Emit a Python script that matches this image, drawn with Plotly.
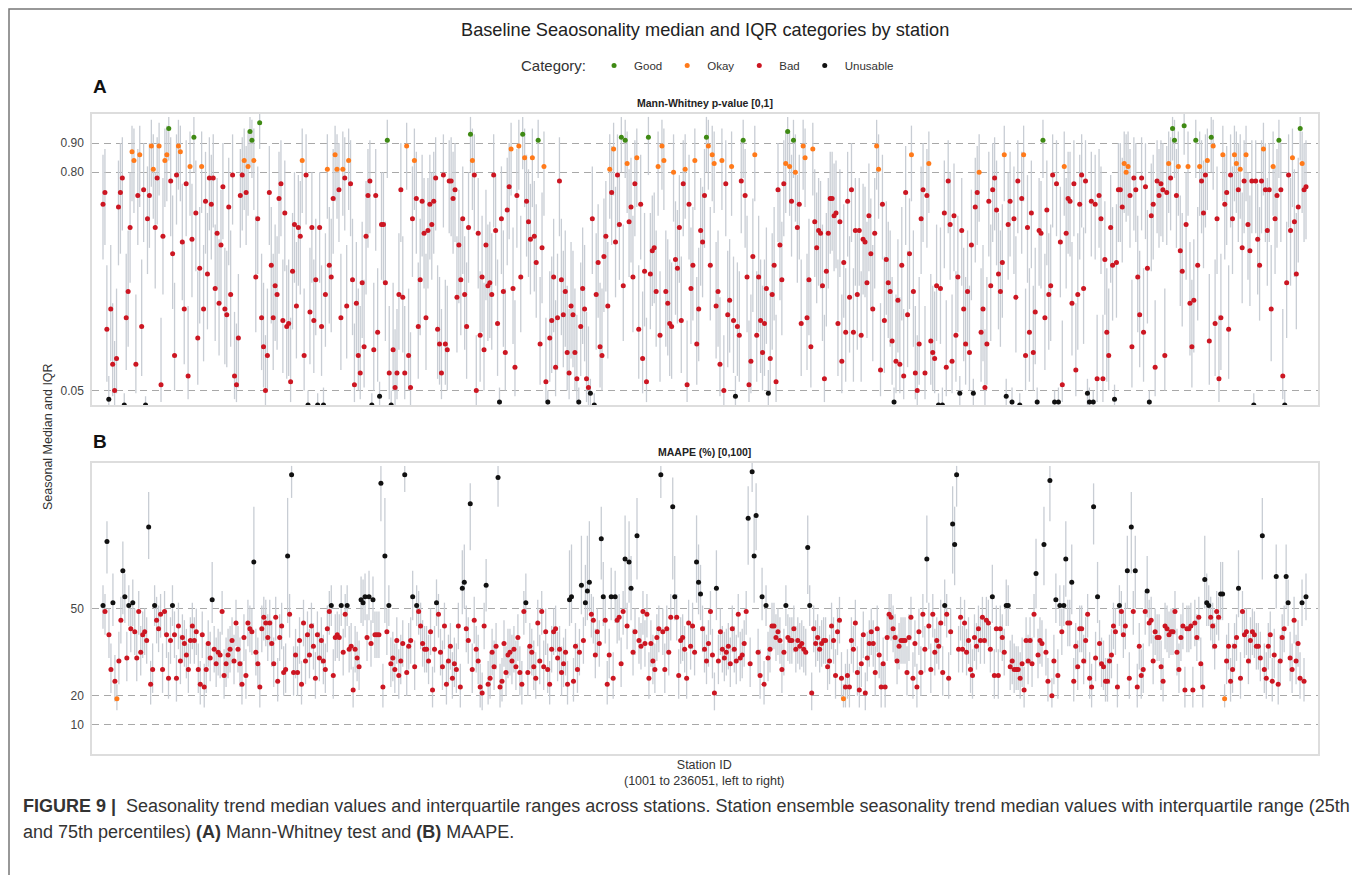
import plotly.graph_objects as go

# ---------------- data ----------------
# Panel A: Mann-Whitney p-value, in percent (0-100), per station, left to right
A_MED = [
69,73,26,2,33,14,5,16,68,73,
78,0,30,39,61,87,84,14,72,86,
27,74,0,64,72,89,81,61,78,89,
7,58,84,86,95,77,52,17,79,89,
87,56,33,76,10,82,57,92,66,23,
47,82,33,70,45,78,69,78,40,59,
35,55,75,33,31,68,38,79,10,7,
23,72,79,84,73,82,94,91,84,44,
64,97,30,20,5,17,73,48,30,41,
38,71,76,29,66,27,28,8,46,62,
34,61,58,84,17,79,0,32,61,29,
43,0,61,27,0,38,81,48,44,71,
86,81,74,30,81,78,34,84,76,43,
7,35,17,11,42,20,58,72,77,0,
19,72,25,3,62,62,42,91,11,0,
19,6,11,38,74,37,11,89,17,6,
64,84,71,27,43,70,59,30,60,69,
62,70,78,26,21,11,79,21,19,77,
77,71,74,37,55,43,64,38,27,61,
93,84,79,5,59,24,44,19,55,41,
42,38,
79,60,28,1,64,39,18,67,75,88,40,
13,72,89,44,93,85,70,63,57,85,58,
49,91,21,54,82,8,1,23,29,44,
13,30,77,43,31,39,18,11,34,31,18,
9,1,27,40,33,9,6,4,64,0,
38,49,20,17,51,58,34,81,73,88,56,
79,62,92,41,91,83,63,68,44,76,
85,26,69,16,46,8,92,45,53,54,39,
82,24,89,84,39,35,28,27,80,50,47,
61,29,76,81,7,69,40,48,84,21,33,
60,56,72,92,89,48,86,83,34,39,
14,84,5,76,31,36,82,29,3,27,24,
77,91,72,44,7,15,51,86,24,44,29,
18,28,40,4,16,38,48,8,74,55,43,
76,83,94,82,70,91,80,61,69,28,
89,85,30,43,20,88,63,54,60,59,41,
9,46,59,71,71,65,66,28,63,15,
49,25,70,37,74,25,60,38,60,24,57,
56,42,65,52,33,59,89,81,12,69,
29,50,42,39,22,1,15,
36,14,48,10,73,31,52,86,39,11,
5,21,64,74,11,72,83,22,18,16,
41,0,40,0,66,13,77,62,15,
65,24,44,4,60,33,21,39,18,55,
4,68,73,80,25,33,6,21,70,
41,74,78,67,45,39,49,86,3,62,
70,1,64,37,77,0,71,86,17,
61,25,66,18,32,1,60,59,91,30,
67,38,41,79,1,76,1,56,7,
82,59,71,70,35,76,12,38,69,79,
40,77,4,1,70,1,69,9,72,
64,9,50,25,17,61,48,2,49,74,
74,68,83,80,82,72,20,78,74,
44,31,78,25,75,47,1,65,69,13,
77,72,76,74,17,73,83,78,95,
91,72,82,53,46,96,62,82,35,20,
36,91,48,82,77,66,79,84,22,
92,89,28,64,9,30,86,69,73,26,
79,64,86,83,74,81,54,77,86,
62,53,77,0,77,57,48,77,88,74,
60,74,33,82,64,72,91,74,10,
0,42,79,60,85,63,45,68,95,83,
74,75,
]
A_Q25 = [
50,55,8,0,15,3,0,4,48,52,
60,0,12,20,42,70,66,4,55,68,
10,56,0,45,54,75,64,40,62,72,
1,38,68,70,84,58,33,5,62,74,
70,36,14,58,2,65,37,80,46,7,
28,66,15,52,26,60,50,61,22,40,
17,35,57,14,13,48,20,62,2,1,
6,54,60,67,55,65,82,78,67,25,
45,88,12,6,0,5,55,28,12,22,
19,52,58,11,46,9,10,1,26,42,
16,41,38,66,5,62,0,14,42,11,
24,0,42,10,0,20,64,28,25,52,
70,64,56,12,65,60,16,67,58,24,
1,17,5,2,23,6,38,54,59,0,
5,53,8,0,43,42,22,78,2,0,
5,0,2,19,56,18,2,74,5,0,
44,67,52,9,24,51,40,12,40,50,
43,52,60,9,7,2,61,7,5,59,
58,52,56,18,35,24,45,19,9,42,
80,67,60,0,40,8,25,5,36,22,
23,19,
61,41,10,0,45,20,5,48,57,72,21,
3,54,74,25,81,68,51,44,38,68,39,
30,78,7,35,65,1,0,8,11,25,
3,12,58,24,13,20,5,2,16,13,5,
1,0,10,21,15,1,0,0,45,0,
19,30,6,5,32,39,16,64,55,72,37,
61,43,80,22,78,66,44,49,25,58,
68,9,50,4,27,1,79,26,34,35,20,
65,8,74,67,20,17,10,9,63,31,28,
42,11,58,64,1,50,21,29,67,7,15,
41,37,54,80,74,29,70,66,16,20,
3,67,0,58,13,18,65,11,0,10,8,
59,78,54,25,1,4,32,70,8,25,11,
5,10,21,0,4,19,29,1,56,36,24,
58,66,82,65,51,78,63,42,50,10,
74,68,12,24,6,72,44,35,41,40,22,
1,27,40,52,53,46,47,10,44,4,
30,8,51,18,56,8,41,19,41,8,38,
37,23,46,33,15,40,74,64,3,50,
11,31,23,20,7,0,4,
18,4,29,2,55,13,33,70,20,2,
0,7,45,56,2,54,66,7,5,4,
22,0,21,0,47,3,59,43,4,
46,8,25,0,41,15,7,20,5,36,
0,49,55,63,8,15,0,7,51,
22,56,60,48,26,20,30,70,0,43,
51,0,45,18,59,0,52,70,5,
42,8,47,5,14,0,41,40,78,12,
48,19,22,61,0,58,0,37,1,
65,40,52,51,17,58,3,19,50,61,
21,59,0,0,51,0,50,1,54,
45,1,31,8,5,42,29,0,30,56,
56,49,66,63,65,54,6,60,56,
25,13,60,8,57,28,0,46,50,3,
59,54,58,56,5,55,66,60,84,
78,54,65,34,27,86,43,65,17,6,
18,78,29,65,59,47,61,67,7,
80,74,10,45,1,12,70,50,55,9,
61,45,70,66,56,64,35,59,70,
43,34,59,0,59,38,29,59,72,56,
41,56,15,65,45,54,78,56,2,
0,23,61,41,68,44,26,49,84,66,
56,57,
]
A_Q75 = [
86,88,48,10,55,35,22,40,84,90,
92,4,52,60,80,96,95,38,88,96,
50,90,3,82,90,98,93,80,92,97,
30,78,95,96,99,92,72,42,93,98,
96,76,56,91,34,94,76,99,84,46,
68,94,55,87,66,92,86,93,62,78,
57,74,90,54,53,85,60,93,32,28,
45,88,92,95,89,94,99,98,95,65,
82,100,52,42,24,40,89,68,52,62,
58,87,91,50,84,48,50,30,66,80,
56,79,77,95,40,93,5,54,80,50,
64,4,80,48,6,59,93,68,64,88,
96,93,90,52,94,92,55,95,91,64,
28,56,40,34,63,43,77,88,91,4,
42,88,47,8,80,80,63,98,34,5,
42,26,33,59,90,58,34,97,40,25,
82,95,87,49,64,86,78,52,78,86,
80,87,92,48,44,33,93,43,41,91,
92,87,90,58,74,64,82,58,49,80,
99,95,93,24,78,46,65,42,74,62,
63,59,
93,79,50,6,82,60,40,85,90,97,61,
36,88,98,65,99,95,86,81,76,95,77,
69,98,44,73,94,30,5,46,51,64,
36,52,92,64,53,60,41,33,56,53,40,
31,6,49,61,55,32,27,9,82,4,
59,69,42,40,71,77,56,93,89,97,75,
93,80,99,62,98,94,81,85,65,91,
95,48,86,39,66,30,99,66,72,73,60,
94,46,98,95,60,57,50,49,93,70,67,
79,51,91,93,29,86,61,68,95,44,54,
78,75,88,99,98,68,96,94,56,60,
37,95,24,91,53,57,94,51,10,49,46,
91,98,88,65,29,38,71,96,46,65,50,
41,50,61,12,39,59,68,31,90,74,63,
91,94,99,94,86,98,93,79,86,50,
98,95,52,64,43,97,81,73,78,77,62,
31,66,78,87,87,83,84,50,81,38,
69,47,87,58,90,47,78,59,78,46,76,
75,63,83,71,55,78,98,93,35,86,
51,70,63,60,44,6,38,
57,37,68,33,89,53,71,96,60,34,
24,44,82,90,34,88,94,45,41,39,
62,4,61,6,84,36,91,80,38,
83,46,65,10,78,54,44,60,41,74,
9,85,89,93,47,55,26,44,87,
62,90,92,84,66,60,69,96,9,80,
87,6,82,58,91,4,87,96,40,
79,47,84,41,54,6,78,77,98,52,
84,59,62,93,5,91,6,75,29,
94,78,87,87,56,91,35,59,86,93,
61,91,9,6,87,5,86,31,88,
82,31,70,47,40,79,68,7,69,90,
90,85,94,93,94,88,43,92,90,
65,53,92,47,90,67,5,83,86,36,
91,88,91,90,40,89,94,92,99,
98,88,94,72,66,100,80,94,56,43,
57,98,68,94,91,84,93,95,45,
99,98,50,82,31,52,96,86,89,48,
93,82,96,94,90,93,73,91,96,
80,72,91,4,91,76,68,91,97,90,
78,90,55,94,82,88,98,90,33,
5,63,93,78,95,81,66,85,99,94,
90,91,
]

# Panel B: MAAPE (%), per station, left to right
B_MED = [
51,49,73,41,29,52,25,19,32,46,
63,54,33,51,43,52,42,33,49,35,41,
42,39,78,24,29,51,46,43,48,29,
49,41,26,39,51,41,26,44,32,40,38,
34,29,39,44,39,42,29,24,41,23,
29,38,33,53,36,31,35,34,49,27,31,
34,36,39,32,45,36,31,24,40,27,
45,43,42,66,35,31,23,43,47,45,40,
45,38,31,47,25,40,44,28,29,68,
48,96,28,34,28,39,24,45,32,41,34,
44,37,26,41,33,39,32,29,43,49,
51,27,40,41,40,51,35,48,51,36,37,
22,36,33,30,53,52,54,40,54,38,
53,41,41,41,93,23,68,42,51,31,33,
29,39,27,32,38,96,28,37,39,54,
30,51,49,44,38,36,36,32,42,22,36,
52,48,35,30,44,24,32,37,26,31,
29,44,23,57,59,43,39,86,29,46,
36,32,23,21,44,58,24,26,35,30,
37,95,
23,25,38,28,34,35,32,36,30,40,
28,24,49,52,28,37,35,30,26,45,
32,49,30,42,29,24,36,42,43,33,36,
28,31,35,24,53,54,25,37,29,35,
58,39,52,56,59,48,46,34,42,38,
74,54,46,24,34,54,26,54,46,47,31,
49,67,44,66,57,35,42,75,39,37,
49,38,48,26,38,32,29,40,43,96,
42,29,43,35,47,85,54,47,27,39,40,
36,26,45,37,44,35,66,59,55,43,
36,32,38,49,34,21,57,32,42,36,
33,35,37,31,43,36,32,48,33,34,38,
49,81,31,97,68,82,35,27,54,24,
51,33,36,44,44,40,42,39,29,35,
51,40,39,39,43,36,39,37,38,36,35,
71,51,21,43,38,40,36,38,39,39,
30,32,44,39,27,42,46,26,19,23,
27,23,39,36,45,28,22,31,41,21,33,
38,42,38,28,43,34,23,31,23,40,
48,47,43,40,32,37,39,39,
39,28,40,47,26,38,23,42,28,48,
36,67,44,29,48,35,39,37,45,
28,51,48,26,42,79,72,96,36,47,
36,45,35,39,29,27,40,37,43,39,
47,39,46,45,36,54,27,43,27,
43,40,35,51,51,30,32,29,29,29,
26,31,22,39,32,39,31,48,62,34,
39,38,72,35,25,94,20,32,53,
27,51,42,51,67,45,45,59,25,37,
30,43,43,32,39,48,26,23,85,33,
54,38,31,30,25,25,32,34,44,
42,23,51,49,41,44,63,26,78,49,
63,23,37,27,29,49,56,45,46,32,
42,40,40,30,25,44,43,41,42,
42,49,35,29,40,44,22,43,43,44,
22,45,40,47,31,23,60,52,51,47,
44,37,49,47,55,55,19,32,37,
25,29,37,40,57,26,49,41,42,32,
39,42,41,37,37,33,75,29,26,37,
41,25,34,61,24,32,40,43,61,52,
33,29,46,32,38,26,52,25,54,
]
B_Q25 = [
43,41,62,33,21,44,18,15,24,38,
48,45,25,44,35,44,34,25,41,27,33,
34,31,67,17,21,44,38,35,40,21,
41,33,19,31,44,33,18,36,24,32,30,
26,21,31,36,31,34,21,17,33,16,
21,30,25,45,28,23,27,26,41,19,23,
26,28,31,24,37,28,23,17,32,19,
37,35,34,50,27,23,16,35,39,37,32,
37,30,23,39,18,32,36,20,21,45,
40,88,20,26,20,31,17,37,24,33,26,
36,29,19,33,25,31,24,21,35,41,
44,19,32,33,32,44,27,40,44,28,29,
16,28,25,22,45,44,46,32,46,30,
45,33,33,33,80,16,45,34,44,23,25,
21,31,19,24,30,90,20,29,31,46,
22,44,41,36,30,28,28,24,34,16,28,
44,40,27,22,36,17,24,29,19,23,
21,36,16,48,50,35,31,70,21,38,
28,24,16,15,36,49,17,19,27,22,
29,85,
16,18,30,20,26,27,24,28,22,32,
20,17,41,45,20,29,27,22,19,37,
24,41,22,34,21,17,28,34,35,25,28,
20,23,27,17,44,45,18,29,21,27,
48,31,44,46,49,40,38,26,34,30,
60,44,38,17,26,46,19,45,38,39,23,
41,50,36,52,46,27,34,60,31,29,
41,30,40,19,30,24,21,32,35,88,
34,21,35,27,39,60,46,39,19,31,32,
28,19,37,29,36,27,52,48,46,35,
28,24,30,41,26,15,46,24,34,28,
25,27,29,23,35,28,24,40,25,26,30,
41,65,23,90,52,70,27,19,46,17,
44,25,28,36,36,32,34,31,21,27,
44,32,31,31,35,28,31,29,30,28,27,
55,44,15,35,30,32,28,30,31,31,
22,24,36,31,19,34,38,19,16,16,
19,16,31,28,37,20,16,23,33,15,25,
30,34,30,20,35,26,16,23,16,32,
40,39,35,32,24,29,31,31,
31,20,32,39,19,30,16,34,20,40,
28,52,36,21,40,27,31,29,37,
20,44,40,19,34,62,58,85,28,39,
28,37,27,31,21,19,32,29,35,31,
39,31,38,37,28,45,19,35,19,
35,32,27,44,44,22,24,21,22,22,
19,23,16,31,24,31,23,40,50,26,
31,30,58,27,18,80,16,24,45,
19,44,34,44,54,37,37,48,18,29,
22,35,35,24,31,40,19,16,72,25,
45,30,23,22,18,18,24,26,36,
34,16,44,41,33,36,50,19,62,41,
50,16,29,19,21,41,47,37,38,24,
34,32,32,22,18,36,35,33,34,
34,41,27,21,32,36,16,35,35,36,
16,37,32,39,23,16,50,44,44,39,
36,29,41,39,46,46,16,24,29,
18,21,29,32,47,19,41,33,34,24,
31,34,33,29,29,25,60,21,19,29,
33,18,26,50,17,24,32,35,50,44,
25,21,38,24,30,19,44,18,46,
]
B_Q75 = [
58,55,80,50,38,62,34,24,42,54,
73,62,42,58,50,60,50,42,56,44,49,
50,47,90,32,38,58,54,51,55,38,
56,49,35,47,58,49,34,52,41,48,46,
43,38,47,52,47,50,38,32,49,31,
38,46,42,66,44,40,43,42,56,36,40,
43,44,47,41,53,44,40,32,48,36,
53,51,50,85,43,40,31,51,54,53,48,
53,46,40,54,33,48,52,37,38,88,
55,99,37,43,37,47,32,53,41,49,43,
52,45,35,49,42,47,41,38,51,56,
58,36,48,49,48,58,43,55,58,44,45,
30,44,42,39,61,60,62,48,63,46,
61,49,49,49,99,31,88,50,58,40,42,
38,47,36,41,46,99,37,45,47,63,
39,58,56,52,46,44,44,41,50,30,44,
60,55,43,39,52,32,41,45,35,40,
38,52,31,70,72,51,47,93,38,54,
44,41,31,28,52,67,32,35,43,39,
45,99,
31,33,46,37,43,43,41,44,39,48,
37,32,56,62,37,45,43,39,35,53,
41,56,39,50,38,32,44,50,51,42,44,
37,40,43,32,70,72,33,45,38,43,
75,47,65,75,80,55,54,43,50,46,
85,66,54,32,43,64,35,63,54,55,40,
56,82,52,80,68,43,50,88,47,45,
56,46,55,35,46,41,38,48,51,99,
50,38,51,43,55,95,68,55,36,47,48,
44,35,53,45,52,43,82,72,65,51,
44,41,46,56,43,28,70,41,50,44,
42,43,45,40,51,44,41,55,42,43,46,
56,92,40,100,82,93,43,36,64,32,
58,42,44,52,52,48,50,47,38,43,
58,48,47,47,51,44,47,45,46,44,43,
82,58,28,51,46,48,44,46,47,47,
39,41,52,47,36,50,54,35,24,31,
36,31,47,44,53,37,30,40,49,28,42,
46,50,46,37,51,43,31,40,31,48,
55,55,51,48,41,45,47,47,
47,37,48,54,35,46,31,50,37,55,
44,82,52,38,55,43,47,45,53,
37,60,55,35,50,92,85,99,44,54,
44,53,43,47,38,36,48,45,51,47,
54,47,54,53,44,65,36,51,36,
51,48,43,60,58,39,41,38,37,37,
35,40,30,47,41,47,40,55,74,43,
47,46,85,43,33,99,26,41,62,
36,58,50,58,80,53,53,72,33,45,
39,51,51,41,47,55,35,31,93,42,
66,46,40,39,33,33,41,43,52,
50,31,58,56,49,52,75,35,90,56,
75,31,45,36,38,56,68,53,54,41,
50,48,48,39,33,52,51,49,50,
50,56,43,38,48,52,30,51,51,52,
30,53,48,54,40,31,75,62,58,54,
52,45,56,54,66,66,24,41,45,
33,38,45,48,70,35,56,49,50,41,
47,50,49,45,45,42,88,38,35,45,
49,33,43,72,32,41,48,51,72,60,
42,38,54,41,46,35,60,33,62,
]

A_TICKS = [0.05, 0.80, 0.90]
A_TICK_TEXT = ["0.05", "0.80", "0.90"]
B_TICKS = [10, 20, 50]
B_TICK_TEXT = ["10", "20", "50"]
CATEGORIES = ["Good", "Okay", "Bad", "Unusable"]
CAT_COLORS = {"Good": "#3f8a14", "Okay": "#ff7a1a", "Bad": "#cc1622", "Unusable": "#111111"}


def cat_a(v):  # p-value in percent
    if v >= 91:
        return "Good"
    if v >= 80:
        return "Okay"
    if v >= 5:
        return "Bad"
    return "Unusable"


def cat_b(v):  # MAAPE %
    if v < 10:
        return "Good"
    if v < 20:
        return "Okay"
    if v <= 50:
        return "Bad"
    return "Unusable"


# page pixel -> paper coordinates (page has an 8px body margin)
OFF = 8
W, H = 1350, 867


def fx(px):
    return (px - OFF) / W


def fy(py):
    return 1 - (py - OFF) / H


SANS = "Liberation Sans, Arial, Helvetica, sans-serif"

fig = go.Figure()

panels = [
    ("x", "y", [v / 100 for v in A_MED], [v / 100 for v in A_Q25], [v / 100 for v in A_Q75], [cat_a(v) for v in A_MED]),
    ("x2", "y2", B_MED, B_Q25, B_Q75, [cat_b(v) for v in B_MED]),
]

for pi, (xa, ya, med, lo, hi, cats) in enumerate(panels):
    rows = list(zip(med, lo, hi, cats))
    xs, ys = [], []
    for i, (m, l, h, c) in enumerate(rows):
        xs += [i, i, None]
        ys += [l, h, None]
    fig.add_trace(go.Scatter(x=xs, y=ys, mode="lines", xaxis=xa, yaxis=ya,
                             line=dict(color="#c8cdd4", width=1.3),
                             hoverinfo="skip", showlegend=False))
    for cat in CATEGORIES:
        px_ = [i for i, r in enumerate(rows) if r[3] == cat]
        py_ = [rows[i][0] for i in px_]
        fig.add_trace(go.Scatter(x=px_, y=py_, mode="markers", xaxis=xa, yaxis=ya,
                                 name=cat, showlegend=(pi == 0),
                                 marker=dict(color=CAT_COLORS[cat], size=5, line=dict(width=0))))

PLOT_L, PLOT_R = 92, 1318
DOT_L, DOT_R = 103, 1306


def xrange_for(n):
    step = (DOT_R - DOT_L) / (n - 1)
    return [-(DOT_L - PLOT_L) / step, (n - 1) + (PLOT_R - DOT_R) / step]


frame = dict(showline=True, linecolor="#dddddd", linewidth=1.5, mirror=True, zeroline=False)
grid = dict(showgrid=True, gridcolor="#a8a8a8", gridwidth=1, griddash="7px,5px")

fig.update_layout(
    width=W, height=H,
    margin=dict(l=0, r=0, t=0, b=0),
    paper_bgcolor="white", plot_bgcolor="white",
    font=dict(family=SANS, color="#333333"),
    xaxis=dict(domain=[fx(PLOT_L), fx(PLOT_R)], range=xrange_for(len(A_MED)), anchor="y",
               showticklabels=False, ticks="", showgrid=False, **frame),
    yaxis=dict(domain=[fy(405), fy(114)], range=[0, 1.0], anchor="x",
               tickvals=A_TICKS, ticktext=A_TICK_TEXT, ticks="", ticklabelstandoff=4,
               tickfont=dict(size=12, color="#444444", family=SANS), **grid, **frame),
    xaxis2=dict(domain=[fx(PLOT_L), fx(PLOT_R)], range=xrange_for(len(B_MED)), anchor="y2",
                showticklabels=False, ticks="", showgrid=False, **frame),
    yaxis2=dict(domain=[fy(754), fy(463)], range=[0, 100], anchor="x2",
                tickvals=B_TICKS, ticktext=B_TICK_TEXT, ticks="", ticklabelstandoff=4,
                tickfont=dict(size=12, color="#444444", family=SANS), **grid, **frame),
    legend=dict(orientation="h", x=fx(519), y=fy(51), xanchor="left", yanchor="top",
                title=dict(text="Category:", font=dict(size=15, color="#333333", family=SANS)),
                font=dict(size=11.5, color="#333333", family=SANS),
                bgcolor="rgba(0,0,0,0)", itemclick=False, itemdoubleclick=False),
    showlegend=True,
)

ann = [
    dict(x=fx(705), y=fy(30), text="Baseline Seaosonality median and IQR categories by station",
         font=dict(size=18.2, color="#222222", family=SANS), xanchor="center", yanchor="middle"),
    dict(x=fx(91), y=fy(86), text="<b>A</b>", font=dict(size=19, color="#111111", family=SANS),
         xanchor="left", yanchor="middle"),
    dict(x=fx(91), y=fy(441), text="<b>B</b>", font=dict(size=19, color="#111111", family=SANS),
         xanchor="left", yanchor="middle"),
    dict(x=fx(705), y=fy(103), text="<b>Mann-Whitney p-value [0,1]</b>",
         font=dict(size=10.5, color="#222222", family=SANS), xanchor="center", yanchor="middle"),
    dict(x=fx(705), y=fy(452), text="<b>MAAPE (%) [0,100]</b>",
         font=dict(size=10.5, color="#222222", family=SANS), xanchor="center", yanchor="middle"),
    dict(x=fx(48), y=fy(437), text="Seasonal Median and IQR", textangle=-90,
         font=dict(size=12.5, color="#333333", family=SANS), xanchor="center", yanchor="middle"),
    dict(x=fx(705), y=fy(773), text="Station ID<br>(1001 to 236051, left to right)",
         font=dict(size=12.5, color="#333333", family=SANS), xanchor="center", yanchor="middle",
         align="center"),
    dict(x=fx(21), y=fy(806),
         text="<b>FIGURE 9 |</b>  Seasonality trend median values and interquartile ranges across stations. "
              "Station ensemble seasonality trend median values with interquartile range (25th",
         font=dict(size=18.0, color="#333333", family=SANS), xanchor="left", yanchor="middle"),
    dict(x=fx(21), y=fy(832),
         text="and 75th percentiles) <b>(A)</b> Mann-Whitney test and <b>(B)</b> MAAPE.",
         font=dict(size=18.0, color="#333333", family=SANS), xanchor="left", yanchor="middle"),
]
for a in ann:
    a.update(xref="paper", yref="paper", showarrow=False)
fig.update_layout(annotations=ann)

fig.add_shape(type="rect", xref="paper", yref="paper",
              x0=fx(9), x1=fx(1354), y0=fy(900), y1=fy(9),
              line=dict(color="#777777", width=1.5), fillcolor="rgba(0,0,0,0)", layer="below")

fig.write_html("out.html")
